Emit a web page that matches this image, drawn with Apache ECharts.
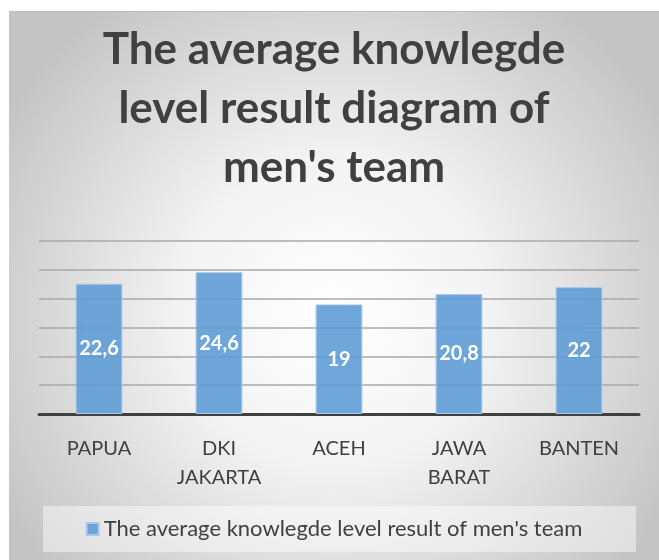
<!DOCTYPE html>
<html>
<head>
<meta charset="utf-8">
<script src="https://cdn.jsdelivr.net/npm/echarts@6/dist/echarts.min.js"></script>
<style>
html,body{margin:0;padding:0;background:#fff;width:659px;height:560px;overflow:hidden;}
#c{position:absolute;left:9px;top:11px;width:650px;height:549px;}
</style>
</head>
<body>
<div id="c"></div>
<script>
const titleText = "The average knowlegde\nlevel result diagram of\nmen's team";
const categories = ["PAPUA", "DKI\nJAKARTA", "ACEH", "JAWA\nBARAT", "BANTEN"];
const values = [22.6, 24.6, 19, 20.8, 22];
const valueLabels = ["22,6", "24,6", "19", "20,8", "22"];
const seriesName = "The average knowlegde level result of men's team";
const yMin = 0, yMax = 30, yStep = 5;

const FONT = "Lato";
const chart = echarts.init(document.getElementById('c'));
chart.setOption({
  backgroundColor: new echarts.graphic.RadialGradient(0.5, 0.55, 0.7, [
    {offset: 0, color: '#ffffff'},
    {offset: 0.4, color: '#f3f3f3'},
    {offset: 1, color: '#c4c4c4'}
  ]),
  animation: false,
  title: {
    text: titleText,
    left: 'center',
    top: 4,
    textStyle: {fontFamily: FONT, fontSize: 44, fontWeight: 'bold', color: '#404040', lineHeight: 59}
  },
  graphic: [{
    type: 'rect',
    shape: {x: 34, y: 495, width: 593, height: 46},
    style: {fill: 'rgba(255,255,255,0.45)'},
    z: 0
  }, {
    type: 'line',
    shape: {x1: 0, y1: 0.5, x2: 650, y2: 0.5},
    style: {stroke: '#bdbdbd', lineWidth: 1}
  }],
  legend: {
    bottom: 15,
    left: 'center',
    itemWidth: 12,
    itemHeight: 12,
    itemGap: 4,
    icon: 'rect',
    textStyle: {fontFamily: FONT, fontSize: 22, color: '#404040'},
    data: [seriesName]
  },
  grid: {left: 30, right: 20, top: 230, bottom: 146},
  xAxis: {
    type: 'category',
    data: categories,
    axisLine: {lineStyle: {color: '#404040', width: 3}},
    axisTick: {show: false},
    axisLabel: {fontFamily: FONT, fontSize: 20, color: '#404040', margin: 20, lineHeight: 29}
  },
  yAxis: {
    type: 'value',
    min: yMin, max: yMax, interval: yStep,
    axisLabel: {show: false},
    axisLine: {show: false},
    axisTick: {show: false},
    splitLine: {lineStyle: {color: '#a8a8a8', width: 1.5}}
  },
  series: [{
    name: seriesName,
    type: 'bar',
    data: values,
    barWidth: '39%',
    itemStyle: {color: 'rgba(91,155,213,0.88)', borderColor: '#a9c9ea', borderWidth: 1},
    label: {
      show: true,
      position: 'inside',
      formatter: p => valueLabels[p.dataIndex],
      fontFamily: FONT, fontSize: 20, fontWeight: 'bold', color: '#ffffff'
    }
  }]
});
</script>
</body>
</html>
